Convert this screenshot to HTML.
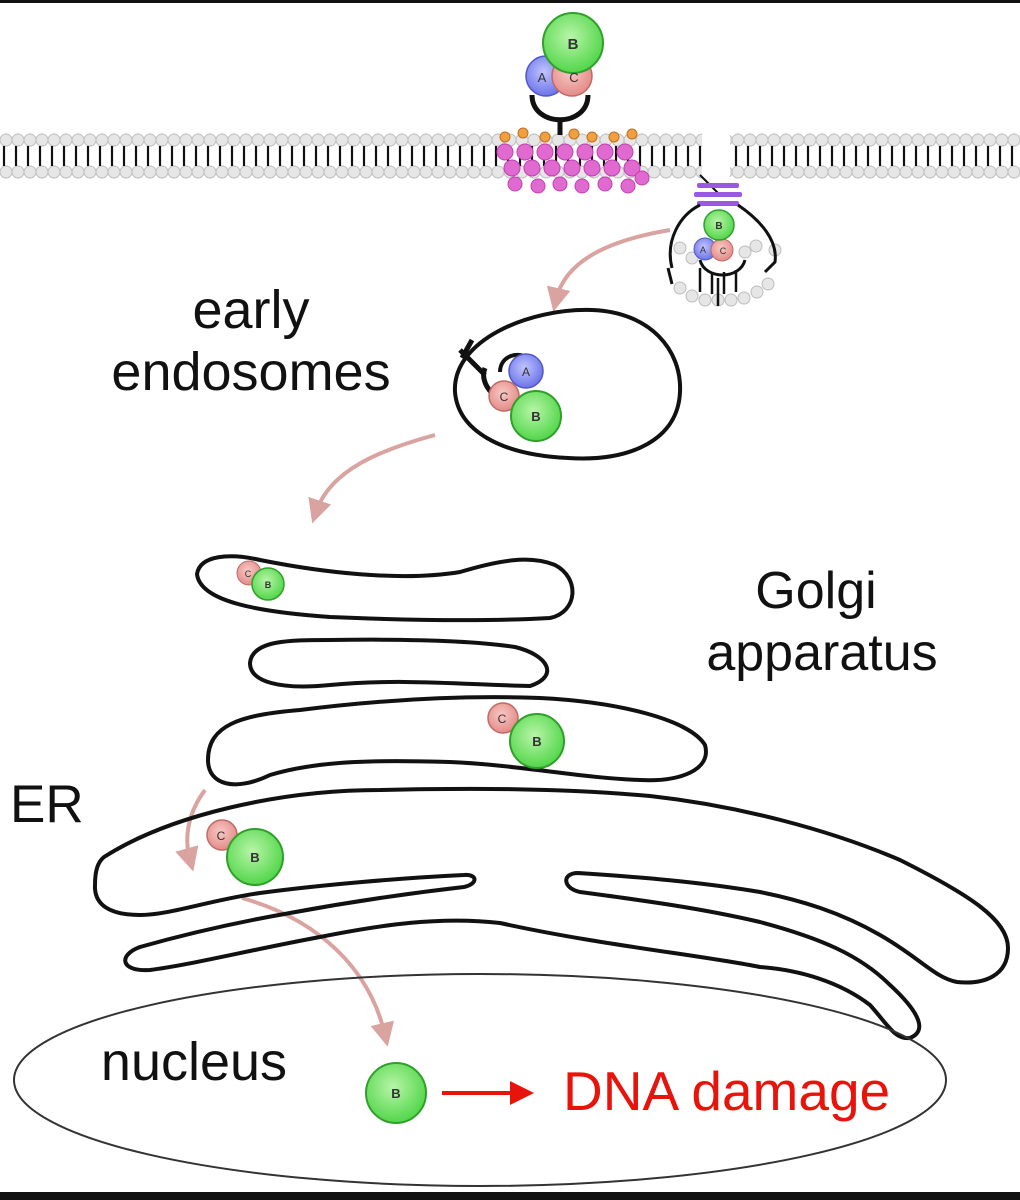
<!DOCTYPE html>
<html><head><meta charset="utf-8"><style>
html,body{margin:0;padding:0;background:#fff;}
svg{display:block;}
text{font-family:"Liberation Sans",sans-serif;}
</style></head><body>
<svg width="1020" height="1200" viewBox="0 0 1020 1200" xmlns="http://www.w3.org/2000/svg">
<defs>
<pattern id="bil" x="0" y="132" width="12" height="50" patternUnits="userSpaceOnUse">
<circle cx="6" cy="8" r="6" fill="#e6e6e6" stroke="#bdbdbd" stroke-width="1"/>
<circle cx="6" cy="40" r="6" fill="#e6e6e6" stroke="#bdbdbd" stroke-width="1"/>
<line x1="4" y1="14" x2="4" y2="34" stroke="#111" stroke-width="2.2"/>
</pattern>
<radialGradient id="gg" cx="0.45" cy="0.4" r="0.6"><stop offset="0" stop-color="#b8f5a8"/><stop offset="1" stop-color="#52d64a"/></radialGradient>
<radialGradient id="pg" cx="0.45" cy="0.4" r="0.6"><stop offset="0" stop-color="#f8c8c4"/><stop offset="1" stop-color="#e38c88"/></radialGradient>
<radialGradient id="bg" cx="0.45" cy="0.4" r="0.6"><stop offset="0" stop-color="#c0c4ff"/><stop offset="1" stop-color="#6c74e8"/></radialGradient>
<marker id="ah" markerWidth="6" markerHeight="6" refX="3" refY="3" orient="auto" markerUnits="strokeWidth"><path d="M0,0 L6,3 L0,6 Z" fill="#d9a3a0"/></marker>
<marker id="rh" markerWidth="6" markerHeight="6" refX="5" refY="3" orient="auto" markerUnits="strokeWidth"><path d="M0,0 L6,3 L0,6 Z" fill="#e8140c"/></marker>
</defs>
<rect x="0" y="0" width="1020" height="1200" fill="#fff"/>
<rect x="0" y="0" width="1020" height="3" fill="#111"/>
<rect x="0" y="1192" width="1020" height="8" fill="#111"/>

<rect x="0" y="132" width="702" height="50" fill="url(#bil)"/>
<rect x="730" y="132" width="290" height="50" fill="url(#bil)"/>
<g fill="#e06ad0" stroke="#c040b0" stroke-width="1">
<circle cx="505" cy="152" r="8"/><circle cx="525" cy="152" r="8"/><circle cx="545" cy="152" r="8"/><circle cx="565" cy="152" r="8"/><circle cx="585" cy="152" r="8"/><circle cx="605" cy="152" r="8"/><circle cx="625" cy="152" r="8"/>
<circle cx="512" cy="168" r="8"/><circle cx="532" cy="168" r="8"/><circle cx="552" cy="168" r="8"/><circle cx="572" cy="168" r="8"/><circle cx="592" cy="168" r="8"/><circle cx="612" cy="168" r="8"/><circle cx="632" cy="168" r="8"/>
<circle cx="515" cy="184" r="7"/><circle cx="538" cy="186" r="7"/><circle cx="560" cy="184" r="7"/><circle cx="582" cy="186" r="7"/><circle cx="605" cy="184" r="7"/><circle cx="628" cy="186" r="7"/><circle cx="642" cy="178" r="7"/>
</g>
<g fill="#f0a040" stroke="#c07020" stroke-width="1">
<circle cx="505" cy="137" r="5"/><circle cx="523" cy="133" r="5"/><circle cx="545" cy="137" r="5"/><circle cx="574" cy="134" r="5"/><circle cx="592" cy="137" r="5"/><circle cx="614" cy="137" r="5"/><circle cx="632" cy="134" r="5"/>
</g>
<path d="M532,95 C532,128 588,128 588,95" fill="none" stroke="#111" stroke-width="5"/>
<line x1="560" y1="118" x2="560" y2="135" stroke="#111" stroke-width="5"/>
<circle cx="546" cy="76" r="20" fill="url(#bg)" stroke="#5058c8" stroke-width="1.5"/>
<circle cx="572" cy="76" r="20" fill="url(#pg)" stroke="#c06a66" stroke-width="1.5"/>
<circle cx="573" cy="43" r="30" fill="url(#gg)" stroke="#2fa02a" stroke-width="2"/>
<text x="573" y="49" font-size="15" text-anchor="middle" fill="#333" font-weight="bold">B</text>
<text x="542" y="82" font-size="13" text-anchor="middle" fill="#333">A</text>
<text x="574" y="82" font-size="13" text-anchor="middle" fill="#333">C</text>

<path d="M700,175 L720,195" stroke="#111" stroke-width="2"/>
<g fill="#9a5ae0"><rect x="697" y="183" width="42" height="5" rx="2"/><rect x="694" y="192" width="48" height="5" rx="2"/><rect x="697" y="201" width="42" height="5" rx="2"/></g>
<g fill="#e6e6e6" stroke="#bdbdbd"><circle cx="680" cy="248" r="6"/><circle cx="692" cy="258" r="6"/><circle cx="745" cy="252" r="6"/><circle cx="756" cy="246" r="6"/><circle cx="775" cy="250" r="6"/><circle cx="680" cy="288" r="6"/><circle cx="692" cy="296" r="6"/><circle cx="705" cy="300" r="6"/><circle cx="718" cy="300" r="6"/><circle cx="731" cy="300" r="6"/><circle cx="744" cy="298" r="6"/><circle cx="757" cy="292" r="6"/><circle cx="768" cy="284" r="6"/></g>
<path d="M700,205 C680,215 665,240 672,268 M738,205 C760,220 778,240 775,262 L765,272 M668,268 L672,284 M700,260 C705,280 740,280 745,260" fill="none" stroke="#111" stroke-width="3"/>
<g stroke="#111" stroke-width="2.5"><line x1="700" y1="268" x2="700" y2="292"/><line x1="712" y1="272" x2="712" y2="294"/><line x1="724" y1="272" x2="724" y2="294"/><line x1="736" y1="270" x2="736" y2="292"/><line x1="718" y1="278" x2="718" y2="306"/></g>
<circle cx="705" cy="249" r="11" fill="url(#bg)" stroke="#5058c8"/>
<circle cx="722" cy="250" r="11" fill="url(#pg)" stroke="#c06a66"/>
<circle cx="719" cy="225" r="15" fill="url(#gg)" stroke="#2fa02a" stroke-width="1.5"/>
<text x="719" y="229" font-size="10" text-anchor="middle" fill="#333" font-weight="bold">B</text>
<text x="703" y="253" font-size="9" text-anchor="middle" fill="#333">A</text>
<text x="723" y="254" font-size="9" text-anchor="middle" fill="#333">C</text>

<path d="M670,230 C610,240 565,260 556,300" fill="none" stroke="#d9a3a0" stroke-width="4" marker-end="url(#ah)"/>
<path d="M435,435 C380,450 330,470 316,512" fill="none" stroke="#d9a3a0" stroke-width="4" marker-end="url(#ah)"/>
<path d="M205,790 C190,810 183,835 190,860" fill="none" stroke="#d9a3a0" stroke-width="4" marker-end="url(#ah)"/>
<path d="M242,898 C320,920 370,970 385,1035" fill="none" stroke="#d9a3a0" stroke-width="4" marker-end="url(#ah)"/>

<text x="251" y="328" font-size="54" text-anchor="middle" fill="#111">early</text>
<text x="251" y="390" font-size="54" text-anchor="middle" fill="#111">endosomes</text>
<text x="816" y="608" font-size="52" text-anchor="middle" fill="#111">Golgi</text>
<text x="822" y="670" font-size="52" text-anchor="middle" fill="#111">apparatus</text>
<text x="10" y="822" font-size="53" fill="#111">ER</text>

<path d="M455,392 C452,340 530,308 592,310 C650,312 682,350 680,392 C678,440 630,462 568,458 C500,455 458,430 455,392 Z" fill="none" stroke="#111" stroke-width="4"/>
<path d="M460,350 L485,375 M472,340 L462,358 M485,368 C480,380 490,395 500,398" fill="none" stroke="#111" stroke-width="5"/>
<path d="M500,372 C500,355 520,350 530,360" fill="none" stroke="#111" stroke-width="4"/>
<circle cx="526" cy="371" r="17" fill="url(#bg)" stroke="#5058c8" stroke-width="1.5"/>
<circle cx="504" cy="396" r="15" fill="url(#pg)" stroke="#c06a66" stroke-width="1.5"/>
<circle cx="536" cy="416" r="25" fill="url(#gg)" stroke="#2fa02a" stroke-width="2"/>
<text x="526" y="376" font-size="12" text-anchor="middle" fill="#333">A</text>
<text x="504" y="401" font-size="12" text-anchor="middle" fill="#333">C</text>
<text x="536" y="421" font-size="13" text-anchor="middle" fill="#333" font-weight="bold">B</text>

<g fill="none" stroke="#111" stroke-width="4" stroke-linejoin="round">
<path d="M197,574 C200,555 230,553 260,560 C320,572 400,582 460,572 C500,560 530,555 555,565 C580,578 578,612 550,618 C480,622 400,620 330,617 C260,612 200,602 197,574 Z"/>
<path d="M250,663 C252,640 290,640 330,640 C400,639 470,640 515,647 C548,655 560,676 530,686 C470,685 400,678 330,685 C280,690 250,682 250,663 Z"/>
<path d="M208,760 C208,725 240,715 300,710 C380,700 460,695 540,698 C620,702 690,720 705,745 C712,770 680,782 640,780 C580,778 520,765 450,762 C380,760 320,760 270,775 C235,792 208,785 208,760 Z"/>
<path d="M104,857 C170,815 280,790 380,790 C470,788 560,788 650,796 C740,806 830,830 900,860 C970,895 1008,920 1008,948 C1008,975 985,985 957,982 C935,978 920,958 880,935 C840,912 800,900 760,892 C700,882 640,877 578,873 C562,873 562,888 580,892 C640,900 700,908 760,922 C820,938 860,955 890,985 C915,1008 930,1030 910,1038 C895,1040 888,1025 870,1005 C840,982 800,970 760,967 C700,955 600,945 500,923 C440,916 380,925 320,937 C250,950 190,965 150,970 C120,972 118,955 140,947 C200,930 250,920 290,913 C360,900 420,892 464,887 C478,884 478,874 464,875 C400,878 320,885 260,893 C210,900 170,915 140,915 C110,915 94,905 95,885 C95,870 98,862 104,857 Z"/>
</g>
<circle cx="249" cy="573" r="12" fill="url(#pg)" stroke="#c06a66"/>
<circle cx="268" cy="584" r="16" fill="url(#gg)" stroke="#2fa02a" stroke-width="1.5"/>
<text x="248" y="577" font-size="9" text-anchor="middle" fill="#333">C</text>
<text x="268" y="588" font-size="9" text-anchor="middle" fill="#333" font-weight="bold">B</text>
<circle cx="503" cy="718" r="15" fill="url(#pg)" stroke="#c06a66" stroke-width="1.5"/>
<circle cx="537" cy="741" r="27" fill="url(#gg)" stroke="#2fa02a" stroke-width="2"/>
<text x="502" y="723" font-size="12" text-anchor="middle" fill="#333">C</text>
<text x="537" y="746" font-size="13" text-anchor="middle" fill="#333" font-weight="bold">B</text>
<circle cx="222" cy="835" r="15" fill="url(#pg)" stroke="#c06a66" stroke-width="1.5"/>
<circle cx="255" cy="857" r="28" fill="url(#gg)" stroke="#2fa02a" stroke-width="2"/>
<text x="221" y="840" font-size="12" text-anchor="middle" fill="#333">C</text>
<text x="255" y="862" font-size="13" text-anchor="middle" fill="#333" font-weight="bold">B</text>

<ellipse cx="480" cy="1080" rx="466" ry="106" fill="none" stroke="#333" stroke-width="2"/>
<text x="194" y="1080" font-size="54" text-anchor="middle" fill="#111">nucleus</text>
<circle cx="396" cy="1093" r="30" fill="url(#gg)" stroke="#2fa02a" stroke-width="2"/>
<text x="396" y="1098" font-size="13" text-anchor="middle" fill="#333" font-weight="bold">B</text>
<line x1="442" y1="1093" x2="530" y2="1093" stroke="#e8140c" stroke-width="4" marker-end="url(#rh)"/>
<text x="563" y="1110" font-size="55" fill="#e8140c">DNA damage</text>
</svg>
</body></html>
